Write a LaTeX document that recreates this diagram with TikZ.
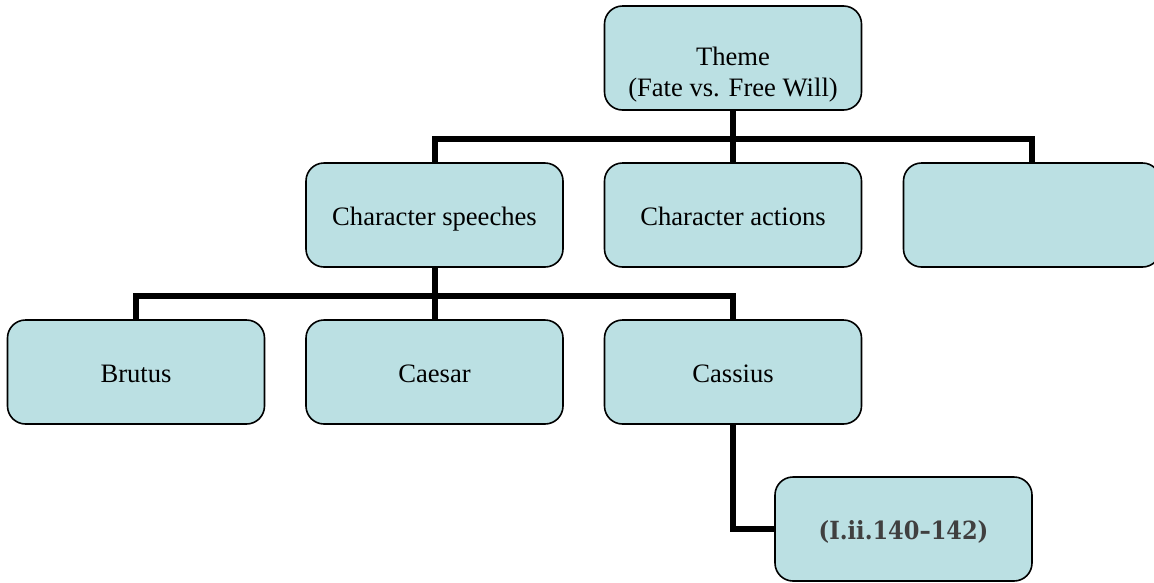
\documentclass[tikz,border=0pt]{standalone}
\usepackage{fontspec}
\setmainfont{Liberation Serif}
\newfontfamily\citefont{DejaVu Serif Condensed}[Ligatures=TeX]
\definecolor{boxfill}{RGB}{187,224,227}
\definecolor{citegray}{RGB}{64,64,64}
\tikzset{
  box/.style={draw=black, line width=1.6pt, fill=boxfill, rounded corners=18pt,
    minimum width=257pt, minimum height=104pt, inner sep=0pt, align=center,
    text height=24pt, text depth=4pt,
    font=\fontsize{26.6}{31}\selectfont},
  conn/.style={draw=black, line width=6pt, line join=miter, line cap=butt}
}
\begin{document}
\begin{tikzpicture}[x=1pt,y=-1pt]
\useasboundingbox (0,0) rectangle (1154,582);
\clip (0,0) rectangle (1154,582);
\coordinate (b1) at (733,139);
\coordinate (b2) at (434.5,296);
\node[box] (theme) at (733,58) {};
\node[box] (speech) at (434.5,215) {Character speeches};
\node[box] (actions) at (733,215) {Character actions};
\node[box] (empty) at (1032,215) {};
\node[box] (brutus) at (136,372) {Brutus};
\node[box] (caesar) at (434.5,372) {Caesar};
\node[box] (cassius) at (733,372) {Cassius};
\node[box, font=\citefont\bfseries\fontsize{25}{31}\selectfont, text=citegray] (cite) at (903.5,529) {(I.ii.140–142)};
\node[font=\fontsize{26.6}{31}\selectfont, align=center, inner sep=0pt] (themetext) at (733,75) {Theme\\(Fate vs. Free Will)};
\draw[conn] (theme.south) -- (b1);
\draw[conn] (speech.north) |- (b1) -| (empty.north);
\draw[conn] (b1) -- (actions.north);
\draw[conn] (speech.south) -- (b2);
\draw[conn] (brutus.north) |- (b2) -| (cassius.north);
\draw[conn] (b2) -- (caesar.north);
\draw[conn] (cassius.south) |- (cite.west);
\end{tikzpicture}
\end{document}
